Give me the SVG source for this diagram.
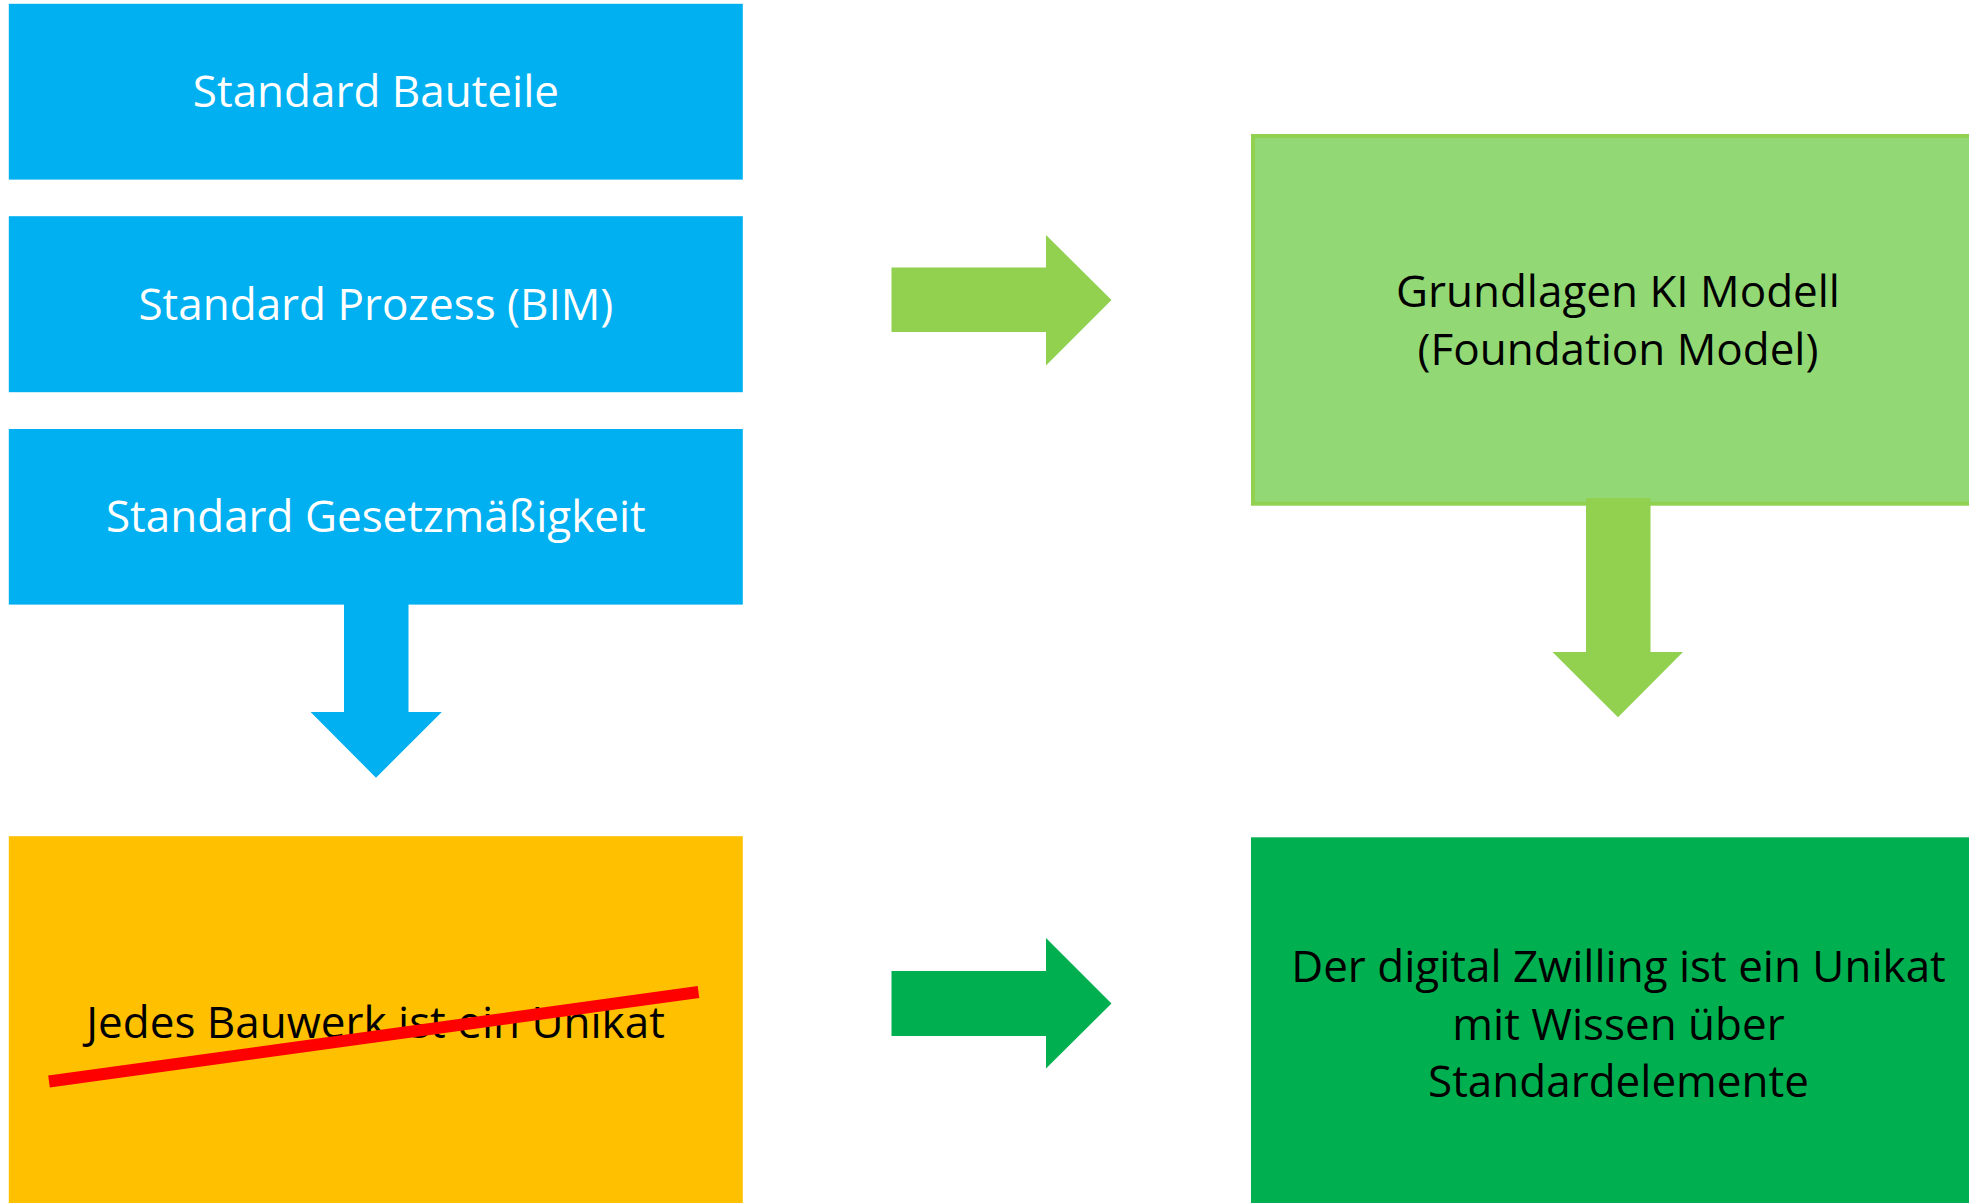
<svg xmlns="http://www.w3.org/2000/svg" width="1969" height="1203" viewBox="0 0 1969 1203">
<style>
.lbl{font-family:"Open Sans","Liberation Sans",sans-serif;font-size:44px;text-anchor:middle}
.w{fill:#FFFFFF}
.k{fill:#000000}
.blue{fill:#00B0F0}
</style>
<rect width="1969" height="1203" fill="#FFFFFF"/>
<g id="node-bauteile">
<rect class="blue" x="8.8" y="3.8" width="734" height="175.8"/>
<text class="lbl w" x="375.9" y="106.5">Standard Bauteile</text>
</g>
<g id="node-prozess">
<rect class="blue" x="8.8" y="216.2" width="734" height="176"/>
<text class="lbl w" x="375.9" y="319.5">Standard Prozess (BIM)</text>
</g>
<g id="node-gesetz">
<rect class="blue" x="8.8" y="429" width="734" height="175.6"/>
<text class="lbl w" x="375.9" y="532">Standard Gesetzmäßigkeit</text>
</g>
<g id="node-unikat">
<rect x="8.8" y="836.2" width="734" height="367" fill="#FFC000"/>
<text class="lbl k" x="375.6" y="1038">Jedes Bauwerk ist ein Unikat</text>
<line x1="49" y1="1081.5" x2="698.5" y2="992" stroke="#FF0000" stroke-width="12"/>
</g>
<g id="node-foundation">
<rect x="1253" y="136" width="732" height="367.7" fill="#92D975" stroke="#92D050" stroke-width="4"/>
<text class="lbl k" x="1618" y="307">Grundlagen KI Modell</text>
<text class="lbl k" x="1618" y="364.5">(Foundation Model)</text>
</g>
<g id="node-twin">
<rect x="1251" y="837.3" width="730" height="366" fill="#00B050"/>
<text class="lbl k" x="1618.5" y="982">Der digital Zwilling ist ein Unikat</text>
<text class="lbl k" x="1618.5" y="1039.5">mit Wissen über</text>
<text class="lbl k" x="1618.5" y="1096.5">Standardelemente</text>
</g>
<g id="connectors">
<polygon class="blue" points="344,604 408.5,604 408.5,712 441.8,712 376,777.7 310.6,712 344,712"/>
<polygon fill="#92D050" points="891.5,267.5 1046,267.5 1046,235 1111.5,300 1046,365.4 1046,332 891.5,332"/>
<polygon fill="#92D050" points="1586,498 1650.5,498 1650.5,652 1683,652 1618,717.3 1552.5,652 1586,652"/>
<polygon fill="#00B050" points="891.5,971 1046,971 1046,938 1111.5,1003.5 1046,1068.5 1046,1036 891.5,1036"/>
</g>
</svg>
